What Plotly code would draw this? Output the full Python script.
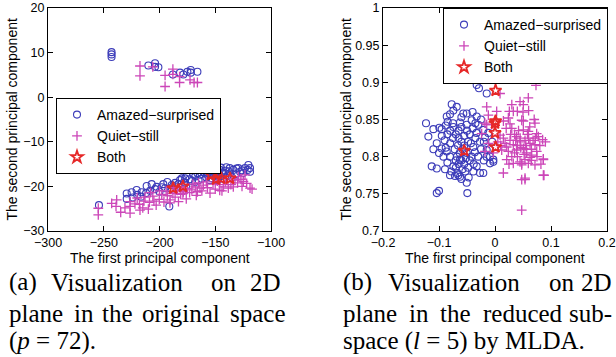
import plotly.graph_objects as go

# ---------------- data: panel (a) original space ----------------
a_amazed_x = [-243, -243, -243, -210, -204, -204, -201, -188, -181.6, -178.6, -175, -172, -172, -166,
              -254.3, -229.4, -229.4, -225, -220.5, -216, -216.6, -211.5, -208.5, -204, -202.5, -196.6, -195,
              -191.2, -189, -186, -181.6, -177, -175.6, -180, -168, -165, -163.7, -159.2, -154.7, -151.7,
              -147.2, -145.7, -142.8, -136.8, -133.8, -129.3, -127.8, -123.3, -120.3, -118.8, -118.8,
              -224, -220, -212, -207, -200, -198, -193, -190, -185, -183, -178, -173, -170, -168, -166,
              -162, -160, -158, -156, -153, -152, -150, -149, -148, -146, -144, -143, -141, -139, -138,
              -135, -132, -131, -126, -125, -121, -187, -176, -171, -164, -157, -155, -150, -147, -145,
              -140, -137]
a_amazed_y = [10.1, 9.6, 9.0, 7.1, 7.6, 6.8, 6.7, 5.1, 5.5, 5.1, 5.7, 6.1, 5.5, 5.7,
              -24.2, -21.6, -22.8, -21.3, -20.8, -21.3, -22.3, -19.9, -21.0, -20.6, -20.1, -19.5, -20.4,
              -24.5, -19.7, -19.2, -18.6, -18.2, -17.7, -18.2, -17.8, -18.6, -17.4, -17.1, -17.2, -16.7,
              -16.7, -17.8, -17.1, -17.1, -16.3, -15.9, -16.7, -15.9, -15.2, -16.7, -15.9,
              -22.5, -21.9, -21.5, -19.5, -21.2, -20.2, -19.0, -20.5, -20.2, -19.5, -19.1, -18.4, -17.2,
              -19.0, -17.0, -18.3, -16.8, -18.0, -16.5, -18.2, -17.6, -16.2, -17.5, -18.6, -16.3, -16.9,
              -18.3, -16.5, -17.6, -16.6, -18.0, -17.3, -16.0, -16.4, -17.0, -16.3, -20.8, -19.8, -18.8,
              -16.3, -17.3, -18.6, -17.0, -17.9, -15.8, -15.7, -15.9]

a_quiet_x = [-217.5, -217.5, -206, -195, -195, -188, -188, -182, -182, -172.6, -169, -166,
             -254.9, -254.9, -242.9, -238.4, -239, -234.8, -226.4, -226.4, -226.4, -217.5, -210, -203,
             -200.2, -190.6, -190.6, -180, -178.6, -171, -168, -163.7, -160.7, -154.7, -142.8, -138.3,
             -133.8, -132.3, -129.3, -123.3, -121.8, -118.8, -124.8,
             -222, -220, -218, -214, -213, -209, -206, -205, -198, -196, -193, -188, -186, -184, -183,
             -181, -176, -175, -173, -170, -166, -165, -162, -158, -157, -152, -150, -148, -146, -144,
             -141, -136, -135, -130, -127, -126, -117, -215, -231, -200, -208, -194, -187, -179, -167, -146]
a_quiet_y = [7.0, 4.8, 6.8, 4.9, 2.4, 6.3, 5.1, 4.6, 3.3, 3.9, 3.3, 3.3,
             -24.9, -26.4, -23.8, -23.0, -24.5, -25.8, -26.0, -24.5, -23.4, -25.3, -25.1, -24.2,
             -22.9, -23.0, -23.7, -20.1, -21.2, -20.8, -20.1, -20.4, -19.7, -21.5, -20.1, -20.4,
             -20.1, -18.6, -17.8, -17.4, -19.3, -20.4, -18.9,
             -23.9, -22.6, -24.0, -23.3, -22.4, -23.6, -22.2, -23.3, -21.8, -23.5, -22.1, -21.6, -22.4,
             -20.9, -23.4, -21.8, -22.8, -20.5, -21.4, -19.5, -21.2, -19.2, -21.0, -19.0, -20.3, -19.5,
             -20.6, -18.8, -19.6, -21.0, -19.0, -19.6, -18.3, -19.2, -18.4, -20.0, -20.6, -24.8, -24.8,
             -21.0, -21.4, -21.0, -20.3, -21.6, -22.0, -20.9]

a_both_x = [-187.8, -179, -153.8, -149.3, -144.8, -136.8]
a_both_y = [-20.4, -20.0, -17.4, -18.4, -18.2, -18.2]

# ---------------- data: panel (b) reduced subspace (MLDA) ----------------
b_amazed_x = [-0.0327, -0.0286, -0.0148, -0.0773, -0.0684, -0.0744, -0.0803, -0.0862, -0.0566, -0.0505,
              -0.0327, -0.1232, -0.110, -0.0994, -0.0952, -0.119, -0.0845, -0.0744, -0.0625, -0.0505,
              -0.0416, -0.0298, -0.0209, -0.104, -0.0952, -0.0862, -0.0803, -0.113, -0.104, -0.0893,
              -0.0744, -0.0803, -0.0714, -0.0625, -0.0327, -0.0268, -0.0625, -0.0505, -0.0387, -0.0268,
              -0.0148, -0.0089, -0.003, -0.0505, -0.104, -0.100, -0.0494, -0.0209, -0.0387, -0.0655,
              -0.0089, -0.003,
              -0.07, -0.065, -0.06, -0.066, -0.072, -0.058, -0.063, -0.068, -0.06, -0.055, -0.065, -0.07,
              -0.058, -0.053, -0.048, -0.045, -0.042, -0.038, -0.03, -0.025, -0.02, -0.035, -0.045, -0.05,
              -0.055, -0.04, -0.075, -0.08, -0.085, -0.09, -0.095, -0.1, -0.092, -0.085, -0.078, -0.067,
              -0.06, -0.047, -0.043, -0.033, -0.018, -0.012, -0.005, -0.075, -0.065, -0.06, -0.08, -0.055,
              -0.048, -0.07, -0.052, -0.036, -0.02, -0.015, -0.088, -0.11, -0.04, -0.035, -0.025, -0.06,
              -0.088, -0.01]
b_amazed_y = [0.8964, 0.892, 0.885, 0.8705, 0.867, 0.862, 0.857, 0.854, 0.858, 0.858,
              0.854, 0.845, 0.837, 0.839, 0.837, 0.827, 0.847, 0.840, 0.846, 0.843,
              0.849, 0.843, 0.836, 0.818, 0.811, 0.807, 0.800, 0.787, 0.784, 0.783,
              0.787, 0.775, 0.774, 0.773, 0.787, 0.778, 0.796, 0.805, 0.813, 0.820,
              0.809, 0.800, 0.796, 0.765, 0.751, 0.754, 0.751, 0.778, 0.780, 0.775,
              0.791, 0.793,
              0.83, 0.825, 0.82, 0.815, 0.81, 0.81, 0.805, 0.80, 0.795, 0.79, 0.79, 0.785,
              0.783, 0.78, 0.785, 0.795, 0.80, 0.79, 0.80, 0.81, 0.82, 0.825, 0.83, 0.835,
              0.828, 0.838, 0.825, 0.818, 0.83, 0.822, 0.828, 0.805, 0.80, 0.792, 0.78, 0.778,
              0.77, 0.772, 0.818, 0.832, 0.826, 0.832, 0.82, 0.845, 0.835, 0.84, 0.835, 0.815,
              0.82, 0.795, 0.798, 0.806, 0.795, 0.80, 0.812, 0.81, 0.86, 0.845, 0.85, 0.853,
              0.842, 0.81]

b_quiet_x = [0.0732, 0.009, 0.0595, 0.0447, 0.030, 0.0506, -0.0148, 0.003, 0.0256, 0.0327, 0.0399,
             0.0238, 0.0477, 0.0506, 0.0714, 0.0268, 0.030, -0.0059, -0.018, 0.0506, 0.0595, 0.0744,
             0.0774, 0.009, 0.0149, 0.0268, 0.0387, 0.0447, 0.0536, 0.0625, 0.0714, 0.0327, 0.0209,
             0.012, -0.003, 0.0238, 0.0387, 0.0506, 0.0566, 0.0655, 0.0745, 0.0863, 0.030, 0.0209,
             0.0447, 0.0536, 0.0625, 0.0477, 0.0149, 0.0863, 0.0536, 0.0477, 0.0536, 0.0875, 0.0477,
             0.0327, 0.0477, 0.0595, 0.0714, 0.0863, -0.0119, -0.0148, -0.0238, -0.0119, -0.0178,
             0.035, 0.04, 0.045, 0.055, 0.06, 0.065, 0.035, 0.028, 0.018, 0.01, 0.005, 0.058, 0.068,
             0.042, 0.062, 0.07, 0.05, 0.06, 0.02, 0.015, 0.08, 0.075, 0.04, 0.025, 0.065, 0.082, 0.046,
             0.052, 0.056, 0.037, 0.072, 0.085, 0.09]
b_quiet_y = [0.896, 0.885, 0.879, 0.874, 0.870, 0.870, 0.867, 0.861, 0.861, 0.861, 0.861,
             0.852, 0.849, 0.848, 0.845, 0.844, 0.838, 0.843, 0.845, 0.836, 0.834, 0.831,
             0.827, 0.829, 0.825, 0.822, 0.827, 0.820, 0.822, 0.818, 0.816, 0.816, 0.813,
             0.809, 0.805, 0.807, 0.809, 0.811, 0.805, 0.802, 0.807, 0.797, 0.800, 0.796,
             0.793, 0.796, 0.799, 0.789, 0.778, 0.775, 0.771, 0.769, 0.769, 0.775, 0.728,
             0.791, 0.791, 0.791, 0.789, 0.796, 0.856, 0.843, 0.831, 0.818, 0.807,
             0.83, 0.815, 0.825, 0.815, 0.825, 0.81, 0.805, 0.83, 0.818, 0.815, 0.82, 0.83, 0.822,
             0.835, 0.84, 0.85, 0.86, 0.862, 0.838, 0.848, 0.815, 0.80, 0.80, 0.79, 0.795, 0.79, 0.812,
             0.803, 0.81, 0.822, 0.825, 0.823, 0.82]

b_both_x = [0.001, 0.001, 0.0, 0.0, 0.001, -0.055]
b_both_y = [0.889, 0.848, 0.845, 0.832, 0.813, 0.808]

series_names = ["Amazed\u2212surprised", "Quiet\u2212still", "Both"]
x_ticks_a = [-300, -250, -200, -150, -100]
y_ticks_a = [-30, -20, -10, 0, 10, 20]
x_ticks_b = [-0.2, -0.1, 0, 0.1, 0.2]
y_ticks_b = [0.7, 0.75, 0.8, 0.85, 0.9, 0.95, 1]

BLUE = "rgb(60,60,185)"
MAGENTA = "rgb(204,70,184)"
RED = "rgb(230,40,40)"
SANS = "Liberation Sans, Arial, sans-serif"
SERIF = "Liberation Serif, Times New Roman, serif"

W, H = 616, 357


def px(v):
    return v / W


def py(v):
    return 1 - v / H


fig = go.Figure()


def add_panel(pts, xa, ya, legend):
    (ax, ay), (qx, qy), (bx, by) = pts
    fig.add_trace(go.Scatter(x=ax, y=ay, mode="markers", name=series_names[0], legend=legend,
                             xaxis=xa, yaxis=ya,
                             marker=dict(symbol="circle-open", size=7, color=BLUE,
                                         line=dict(width=1.1, color=BLUE))))
    fig.add_trace(go.Scatter(x=qx, y=qy, mode="markers", name=series_names[1], legend=legend,
                             xaxis=xa, yaxis=ya,
                             marker=dict(symbol="cross-thin-open", size=7, color=MAGENTA,
                                         line=dict(width=1.3, color=MAGENTA))))
    fig.add_trace(go.Scatter(x=bx, y=by, mode="markers", name=series_names[2], legend=legend,
                             xaxis=xa, yaxis=ya,
                             marker=dict(symbol="star-open", size=9, color=RED,
                                         line=dict(width=1.8, color=RED))))


add_panel([(a_amazed_x, a_amazed_y), (a_quiet_x, a_quiet_y), (a_both_x, a_both_y)], "x", "y", "legend")
add_panel([(b_amazed_x, b_amazed_y), (b_quiet_x, b_quiet_y), (b_both_x, b_both_y)], "x2", "y2", "legend2")

axis_common = dict(showline=True, linecolor="black", linewidth=1, mirror="ticks", ticks="inside",
                   ticklen=5, tickcolor="black", showgrid=False, zeroline=False,
                   tickfont=dict(family=SANS, size=12.5, color="black"))
ydom = [py(231), py(8)]

legend_common = dict(xanchor="left", yanchor="top", bgcolor="white", bordercolor="black", borderwidth=1,
                     font=dict(family=SANS, size=14, color="black"), itemwidth=30, tracegroupgap=0)

fig.update_layout(
    width=W, height=H, margin=dict(l=0, r=0, t=0, b=0, autoexpand=False),
    paper_bgcolor="white", plot_bgcolor="white",
    font=dict(family=SANS, color="black"),
    xaxis=dict(domain=[px(48), px(271)], range=[-300, -100], tickvals=x_ticks_a, anchor="y", **axis_common),
    yaxis=dict(domain=ydom, range=[-30, 20], tickvals=y_ticks_a, anchor="x", **axis_common),
    xaxis2=dict(domain=[px(383), px(607)], range=[-0.2, 0.2], tickvals=x_ticks_b, anchor="y2", **axis_common),
    yaxis2=dict(domain=ydom, range=[0.7, 1], tickvals=y_ticks_b, anchor="x2", **axis_common),
    legend=dict(x=px(56), y=py(98), **legend_common),
    legend2=dict(x=px(443), y=py(8), **legend_common),
)

annotations = []
# axis titles
for cx in [(48 + 271) / 2, (383 + 607) / 2]:
    annotations.append(dict(x=px(cx), y=py(258), xref="paper", yref="paper", text="The first principal component",
                            showarrow=False, xanchor="center", yanchor="middle",
                            font=dict(family=SANS, size=14, color="black")))
for cx in [12, 346]:
    annotations.append(dict(x=px(cx), y=py(119.5), xref="paper", yref="paper",
                            text="The second principal component", textangle=-90,
                            showarrow=False, xanchor="center", yanchor="middle",
                            font=dict(family=SANS, size=14, color="black")))

# captions (word-positioned to mimic justified LaTeX text)
cap_words = [
    # (text, x_px, line_center_y_px, anchor)
    ("(a)", 7, 282, "left"), ("Visualization", 49, 282, "left"), ("on", 209, 282, "left"), ("2D", 283, 282, "right"),
    ("plane", 7, 313, "left"), ("in", 72, 313, "left"), ("the", 100, 313, "left"), ("original", 140, 313, "left"),
    ("space", 228, 313, "left"),
    ("(<i>p</i> = 72).", 7, 341, "left"),
    ("(b)", 341, 282, "left"), ("Visualization", 386, 282, "left"), ("on", 547, 282, "left"), ("2D", 614, 282, "right"),
    ("plane", 341, 313, "left"), ("in", 407, 313, "left"), ("the", 438, 313, "left"), ("reduced", 481, 313, "left"),
    ("sub-", 614, 313, "right"),
    ("space (<i>l</i> = 5) by MLDA.", 341, 341, "left"),
]
for t, x0, yc, anc in cap_words:
    annotations.append(dict(x=px(x0), y=py(yc), xref="paper", yref="paper", text=t, showarrow=False,
                            xanchor=anc, yanchor="middle",
                            font=dict(family=SERIF, size=25, color="black")))

fig.update_layout(annotations=annotations)
fig.write_html("out.html", config={"displayModeBar": False},
               post_script="document.body.style.margin='0';document.body.style.overflow='hidden';")
